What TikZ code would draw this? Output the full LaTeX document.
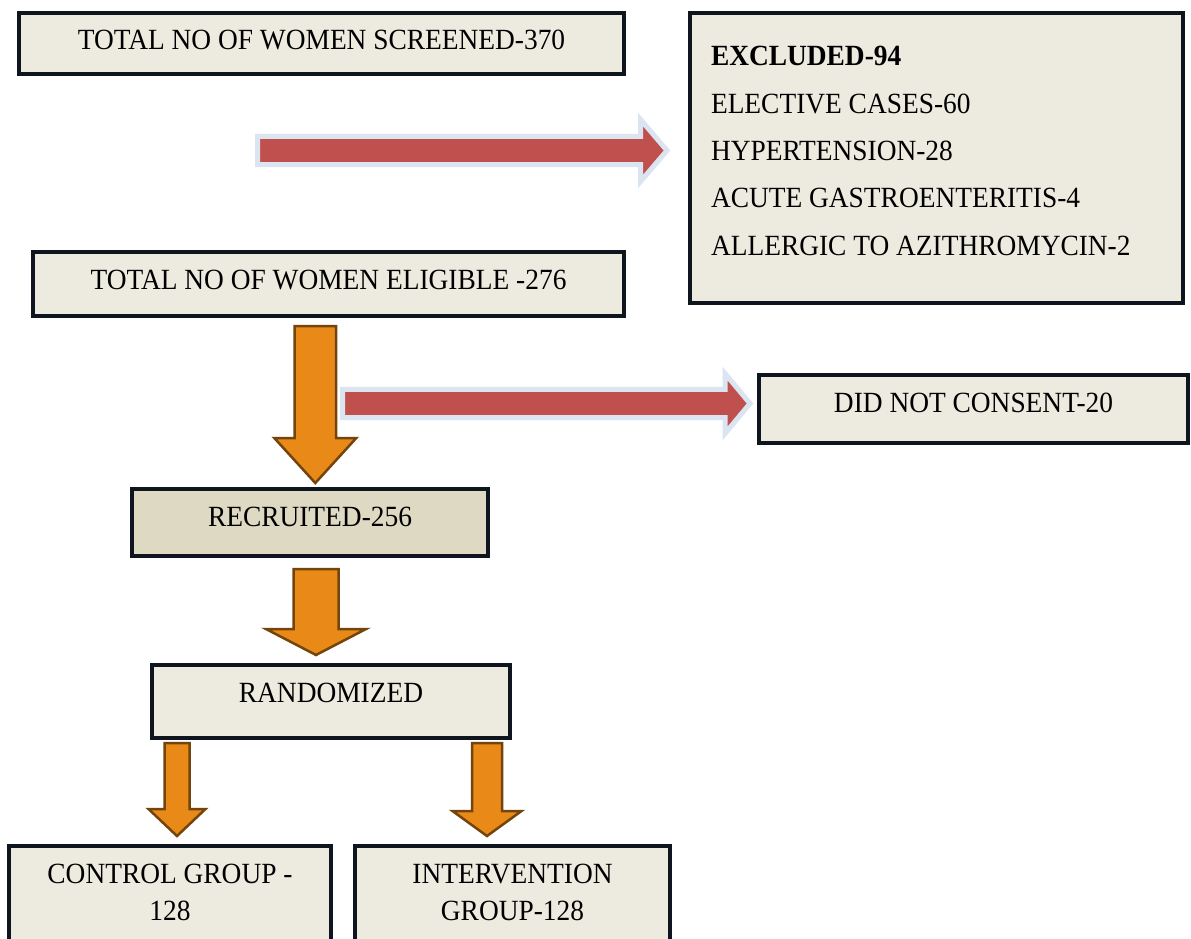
\documentclass[tikz,border=0pt]{standalone}
\usepackage{fontspec}
\setmainfont{Liberation Serif}
\usepackage{graphicx}
\usetikzlibrary{calc}
\definecolor{boxfill}{RGB}{237,235,224}
\definecolor{recfill}{RGB}{221,217,195}
\definecolor{boxline}{RGB}{14,21,30}
\definecolor{redarr}{RGB}{192,80,77}
\definecolor{redrim}{RGB}{219,228,241}
\definecolor{orarr}{RGB}{233,138,24}
\definecolor{orrim}{RGB}{115,68,12}
\newcommand{\tx}[2]{\raisebox{#1pt}[\height][\depth]{\scalebox{1}[1.07]{#2}}}
% horizontal block arrow: style, start, tip, shaft half, head half, head length
\newcommand{\hblock}[6]{\draw[#1] ($(#2)+(0,-#4)$) -- ($(#3)+(-#6,-#4)$) -- ($(#3)+(-#6,-#5)$) -- (#3) -- ($(#3)+(-#6,#5)$) -- ($(#3)+(-#6,#4)$) -- ($(#2)+(0,#4)$) -- cycle;}
% vertical (downward) block arrow
\newcommand{\vblock}[6]{\draw[#1] ($(#2)+(-#4,0)$) -- ($(#3)+(-#4,-#6)$) -- ($(#3)+(-#5,-#6)$) -- (#3) -- ($(#3)+(#5,-#6)$) -- ($(#3)+(#4,-#6)$) -- ($(#2)+(#4,0)$) -- cycle;}
\begin{document}
\begin{tikzpicture}[x=1pt,y=-1pt,
  box/.style={draw=boxline, line width=4pt, fill=boxfill, inner sep=0pt, font=\fontsize{27.4}{34.6}\selectfont},
  redblk/.style={fill=redarr, draw=redrim, line width=5pt, line join=miter},
  orblk/.style={fill=orarr, draw=orrim, line width=2.5pt, line join=miter}]
\clip (0,0) rectangle (1191,939);
\fill[white] (0,0) rectangle (1191,939);

% boxes
\node[box, minimum width=605pt, minimum height=61pt] (scr) at (321.5,43.5) {\tx{3.75}{TOTAL NO OF WOMEN SCREENED-370}};
\node[box, minimum width=493pt, minimum height=290pt, font=\fontsize{27.4}{44.2}\selectfont] (excl) at (936.5,158)
  {\makebox[451pt][l]{\tx{7}{\begin{tabular}{@{}l@{}}\textbf{EXCLUDED-94}\\ELECTIVE CASES-60\\HYPERTENSION-28\\ACUTE GASTROENTERITIS-4\\ALLERGIC TO AZITHROMYCIN-2\end{tabular}}}};
\node[box, minimum width=591pt, minimum height=64pt] (elig) at (328.5,284) {\tx{4}{TOTAL NO OF WOMEN ELIGIBLE -276}};
\node[box, minimum width=429pt, minimum height=68pt] (dnc) at (973.5,409) {\tx{6}{DID NOT CONSENT-20}};
\node[box, fill=recfill, minimum width=356pt, minimum height=67pt] (rec) at (310,522.5) {\tx{5.75}{RECRUITED-256}};
\node[box, minimum width=358pt, minimum height=73pt] (rand) at (331,701.5) {\tx{8.75}{RANDOMIZED}};
\node[box, minimum width=322pt, minimum height=114pt] (ctrl) at (170,903) {\tx{8.5}{\begin{tabular}{@{}c@{}}CONTROL GROUP -\\128\end{tabular}}};
\node[box, minimum width=315pt, minimum height=114pt] (intv) at (512.5,903) {\tx{8.5}{\begin{tabular}{@{}c@{}}INTERVENTION\\GROUP-128\end{tabular}}};

% arrow end points
\coordinate (o1s) at (315.3,326);  \coordinate (o1e) at (315.3,483);
\coordinate (o2s) at (316,569);    \coordinate (o2e) at (316,655);
\coordinate (o3s) at (177,743);    \coordinate (o3e) at (177,836);
\coordinate (o4s) at (487,743);    \coordinate (o4e) at (487,836);
\coordinate (r1s) at (257.5,150.5); \coordinate (r1e) at (667,150.5);
\coordinate (r2s) at (342.5,403.5); \coordinate (r2e) at (750,403.5);

% orange block arrows
\vblock{orblk}{o1s}{o1e}{20.8}{41}{45}
\vblock{orblk}{o2s}{o2e}{22.5}{50}{26}
\vblock{orblk}{o3s}{o3e}{12.5}{28.5}{27}
\vblock{orblk}{o4s}{o4e}{15}{34.5}{25}

% red block arrows
\hblock{redblk}{r1s}{r1e}{14.2}{31}{26.5}
\hblock{redblk}{r2s}{r2e}{14.2}{30}{25}
\end{tikzpicture}
\end{document}
